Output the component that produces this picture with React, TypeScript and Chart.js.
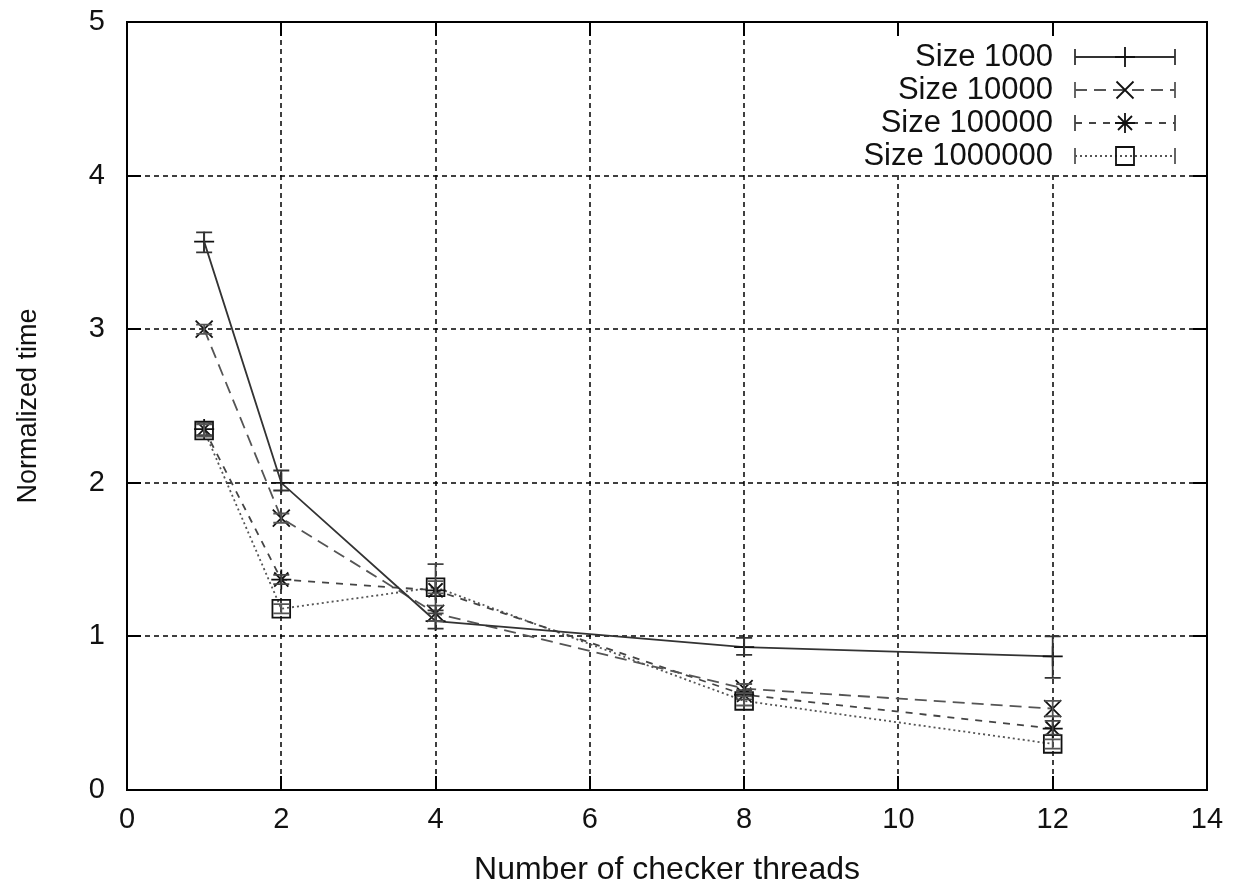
import React, { useEffect, useRef } from 'react';
import { Chart, registerables } from 'chart.js';

Chart.register(...registerables);

// ---- data ----
const threads = [1, 2, 4, 8, 12];
const seriesLabels = ['Size 1000', 'Size 10000', 'Size 100000', 'Size 1000000'];

const size1000 = [3.57, 2.0, 1.1, 0.93, 0.87];
const size1000Lo = [3.5, 1.95, 1.05, 0.88, 0.73];
const size1000Hi = [3.63, 2.08, 1.17, 0.99, 1.0];

const size10000 = [3.0, 1.77, 1.15, 0.66, 0.53];
const size10000Lo = [2.97, 1.74, 1.1, 0.63, 0.48];
const size10000Hi = [3.03, 1.8, 1.2, 0.69, 0.58];

const size100000 = [2.35, 1.37, 1.3, 0.62, 0.4];
const size100000Lo = [2.31, 1.34, 1.15, 0.59, 0.36];
const size100000Hi = [2.39, 1.4, 1.47, 0.65, 0.45];

const size1000000 = [2.34, 1.18, 1.32, 0.58, 0.3];
const size1000000Lo = [2.3, 1.15, 1.28, 0.55, 0.27];
const size1000000Hi = [2.38, 1.21, 1.36, 0.61, 0.33];

const xTicks = [0, 2, 4, 6, 8, 10, 12, 14];
const yTicks = [0, 1, 2, 3, 4, 5];
const xTitle = 'Number of checker threads';
const yTitle = 'Normalized time';

// ---- styles ----
const FONT = "'Liberation Sans', Arial, Helvetica, sans-serif";
const seriesStyles = [
  { color: '#333333', dash: [] as number[], point: 'cross', radius: 10 },
  { color: '#555555', dash: [12, 7], point: 'crossRot', radius: 12 },
  { color: '#444444', dash: [7, 7], point: 'star', radius: 10 },
  { color: '#555555', dash: [2, 3], point: 'rect', radius: 12.5 },
];

const seriesValues = [size1000, size10000, size100000, size1000000];
const seriesLo = [size1000Lo, size10000Lo, size100000Lo, size1000000Lo];
const seriesHi = [size1000Hi, size10000Hi, size100000Hi, size1000000Hi];

const framePlugin = {
  id: 'gnuFrame',
  beforeDatasetsDraw(chart: any) {
    const { ctx, chartArea: a, scales } = chart;
    const xs = scales.x;
    const ys = scales.y;
    ctx.save();
    // dashed grid
    ctx.strokeStyle = '#000';
    ctx.lineWidth = 1.5;
    ctx.setLineDash([5, 4]);
    xTicks.forEach((v) => {
      if (v <= xTicks[0] || v >= xTicks[xTicks.length - 1]) return;
      const px = Math.round(xs.getPixelForValue(v));
      ctx.beginPath();
      ctx.moveTo(px, a.top);
      ctx.lineTo(px, a.bottom);
      ctx.stroke();
    });
    yTicks.forEach((v) => {
      if (v <= yTicks[0] || v >= yTicks[yTicks.length - 1]) return;
      const py = Math.round(ys.getPixelForValue(v));
      ctx.beginPath();
      ctx.moveTo(a.left, py);
      ctx.lineTo(a.right, py);
      ctx.stroke();
    });
    ctx.setLineDash([]);
    // frame
    ctx.lineWidth = 2;
    ctx.strokeRect(a.left, a.top, a.right - a.left, a.bottom - a.top);
    // inward ticks
    const tl = 14;
    ctx.lineWidth = 2;
    xTicks.forEach((v) => {
      const px = Math.round(xs.getPixelForValue(v));
      ctx.beginPath();
      ctx.moveTo(px, a.bottom);
      ctx.lineTo(px, a.bottom - tl);
      ctx.moveTo(px, a.top);
      ctx.lineTo(px, a.top + tl);
      ctx.stroke();
    });
    yTicks.forEach((v) => {
      const py = Math.round(ys.getPixelForValue(v));
      ctx.beginPath();
      ctx.moveTo(a.left, py);
      ctx.lineTo(a.left + tl, py);
      ctx.moveTo(a.right, py);
      ctx.lineTo(a.right - tl, py);
      ctx.stroke();
    });
    ctx.restore();
  },
};

const errorBarPlugin = {
  id: 'errorBars',
  afterDatasetsDraw(chart: any) {
    const { ctx } = chart;
    const ys = chart.scales.y;
    ctx.save();
    chart.data.datasets.forEach((ds: any, di: number) => {
      const meta = chart.getDatasetMeta(di);
      ctx.strokeStyle = ds.borderColor;
      ctx.lineWidth = 1.8;
      ctx.setLineDash([]);
      meta.data.forEach((pt: any, i: number) => {
        const x = pt.x;
        const yLo = ys.getPixelForValue(seriesLo[di][i]);
        const yHi = ys.getPixelForValue(seriesHi[di][i]);
        const cap = 8;
        ctx.beginPath();
        ctx.moveTo(x, yLo);
        ctx.lineTo(x, yHi);
        ctx.moveTo(x - cap, yLo);
        ctx.lineTo(x + cap, yLo);
        ctx.moveTo(x - cap, yHi);
        ctx.lineTo(x + cap, yHi);
        ctx.stroke();
      });
    });
    ctx.restore();
  },
};

function drawMarker(ctx: CanvasRenderingContext2D, kind: string, x: number, y: number) {
  ctx.beginPath();
  if (kind === 'cross' || kind === 'star') {
    ctx.moveTo(x - 10, y);
    ctx.lineTo(x + 10, y);
    ctx.moveTo(x, y - 10);
    ctx.lineTo(x, y + 10);
  }
  if (kind === 'crossRot' || kind === 'star') {
    const d = kind === 'star' ? 7 : 8.5;
    ctx.moveTo(x - d, y - d);
    ctx.lineTo(x + d, y + d);
    ctx.moveTo(x - d, y + d);
    ctx.lineTo(x + d, y - d);
  }
  if (kind === 'rect') {
    ctx.rect(x - 9, y - 9, 18, 18);
  }
  ctx.stroke();
}

const legendPlugin = {
  id: 'gnuLegend',
  afterDatasetsDraw(chart: any) {
    const { ctx, chartArea: a } = chart;
    ctx.save();
    ctx.fillStyle = '#fff';
    ctx.fillRect(a.right - 365, a.top + 16, 352, 133);
    seriesLabels.forEach((label, i) => {
      const st = seriesStyles[i];
      const y = a.top + 35 + i * 33;
      ctx.font = `31px ${FONT}`;
      ctx.fillStyle = '#111';
      ctx.textAlign = 'right';
      ctx.textBaseline = 'middle';
      ctx.fillText(label, a.right - 154, y);
      const x0 = a.right - 132;
      const x1 = a.right - 32;
      ctx.strokeStyle = st.color;
      ctx.lineWidth = 1.8;
      ctx.setLineDash(st.dash);
      ctx.beginPath();
      ctx.moveTo(x0, y);
      ctx.lineTo(x1, y);
      ctx.stroke();
      ctx.setLineDash([]);
      ctx.beginPath();
      ctx.moveTo(x0, y - 8);
      ctx.lineTo(x0, y + 8);
      ctx.moveTo(x1, y - 8);
      ctx.lineTo(x1, y + 8);
      ctx.stroke();
      ctx.strokeStyle = '#111';
      drawMarker(ctx, st.point, (x0 + x1) / 2, y);
    });
    ctx.restore();
  },
};

export default function App() {
  const ref = useRef<HTMLCanvasElement>(null);
  useEffect(() => {
    const canvas = ref.current;
    if (!canvas) return;
    const chart = new Chart(canvas, {
      type: 'line',
      data: {
        datasets: seriesLabels.map((label, i) => ({
          label,
          data: threads.map((t, j) => ({ x: t, y: seriesValues[i][j] })),
          borderColor: seriesStyles[i].color,
          borderWidth: 1.8,
          borderDash: seriesStyles[i].dash,
          pointStyle: seriesStyles[i].point as any,
          pointRadius: seriesStyles[i].radius,
          pointBorderWidth: 1.8,
          pointBorderColor: '#111',
          pointBackgroundColor: 'rgba(0,0,0,0)',
          fill: false,
          tension: 0,
        })),
      },
      options: {
        responsive: false,
        animation: false,
        devicePixelRatio: 1,
        layout: { padding: { left: 0, top: 22, right: 35, bottom: 0 } },
        plugins: {
          legend: { display: false },
          tooltip: { enabled: false },
        },
        scales: {
          x: {
            type: 'linear',
            min: 0,
            max: 14,
            grid: { display: false, drawTicks: false },
            border: { display: false },
            afterFit: (s: any) => {
              s.height = 99;
              s.paddingLeft = 0;
              s.paddingRight = 0;
              s.paddingTop = 0;
              s.paddingBottom = 0;
            },
            afterBuildTicks: (s: any) => {
              s.ticks = xTicks.map((v) => ({ value: v }));
            },
            ticks: {
              padding: 13,
              color: '#111',
              font: { family: FONT, size: 29 },
              maxRotation: 0,
              autoSkip: false,
            },
            title: {
              display: true,
              text: xTitle,
              color: '#111',
              font: { family: FONT, size: 32 },
              padding: { top: 3, bottom: 0 },
            },
          },
          y: {
            type: 'linear',
            min: 0,
            max: 5,
            grid: { display: false, drawTicks: false },
            border: { display: false },
            afterFit: (s: any) => {
              s.width = 127;
              s.paddingLeft = 0;
              s.paddingRight = 0;
              s.paddingTop = 0;
              s.paddingBottom = 0;
            },
            afterBuildTicks: (s: any) => {
              s.ticks = yTicks.map((v) => ({ value: v }));
            },
            ticks: {
              padding: 22,
              color: '#111',
              font: { family: FONT, size: 29 },
              autoSkip: false,
            },
            title: {
              display: true,
              text: yTitle,
              color: '#111',
              font: { family: FONT, size: 27 },
              padding: { top: 12, bottom: 0 },
            },
          },
        },
      },
      plugins: [framePlugin, errorBarPlugin, legendPlugin],
    });
    return () => chart.destroy();
  }, []);
  return (
    <div style={{ position: 'absolute', left: 0, top: 0, width: 1242, height: 889, background: '#fff' }}>
      <canvas ref={ref} width={1242} height={889} style={{ display: 'block' }} />
    </div>
  );
}
